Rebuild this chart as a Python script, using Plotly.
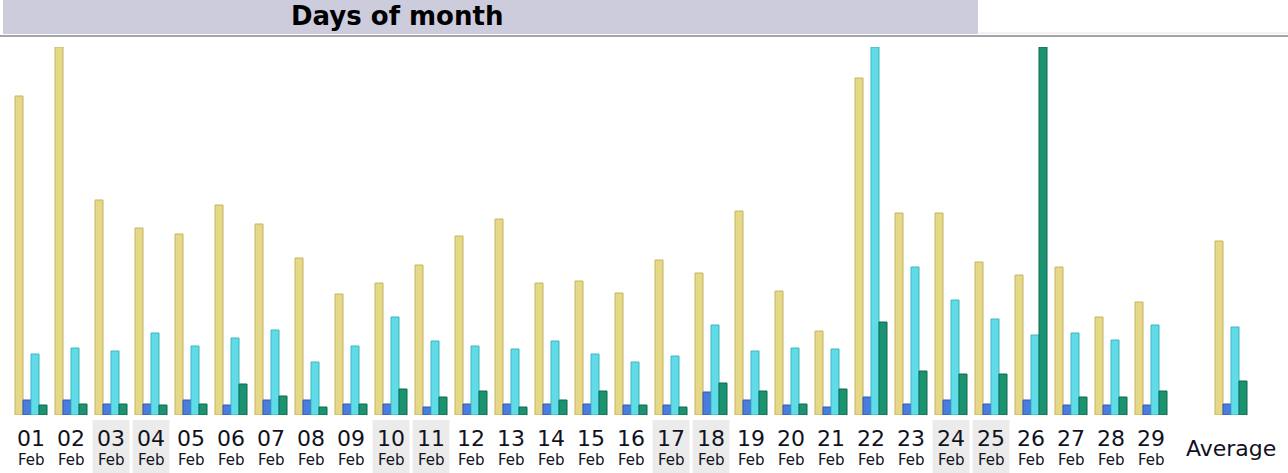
import plotly.graph_objects as go

# ---------------- data ----------------
days = ["01", "02", "03", "04", "05", "06", "07", "08", "09", "10",
        "11", "12", "13", "14", "15", "16", "17", "18", "19", "20",
        "21", "22", "23", "24", "25", "26", "27", "28", "29"]
month = "Feb"
weekend_days = ["03", "04", "10", "11", "17", "18", "24", "25"]

visits = [957, 1104, 645, 561, 543, 630, 573, 471, 363, 396,
          450, 537, 588, 396, 402, 366, 465, 426, 612, 372,
          252, 1011, 606, 606, 459, 420, 444, 294, 339]
pages = [750, 750, 550, 550, 750, 500, 750, 750, 550, 550,
         400, 550, 550, 550, 550, 500, 500, 1150, 750, 500,
         400, 900, 550, 750, 550, 750, 500, 500, 500]
hits = [3050, 3350, 3200, 4100, 3450, 3850, 4250, 2650, 3450, 4900,
        3700, 3450, 3300, 3700, 3050, 2650, 2950, 4500, 3200, 3350,
        3300, 18400, 7400, 5750, 4800, 4000, 4100, 3750, 4500]
bandwidth_mb = [20, 22, 22, 20, 22, 62, 38, 16, 22, 52,
                36, 48, 16, 30, 48, 20, 16, 64, 48, 22,
                52, 186, 88, 82, 82, 736, 36, 36, 48]

avg_label = "Average"
avg_visits = 522
avg_pages = 550
avg_hits = 4400
avg_bandwidth_mb = 68

gap_category = " "
title_text = "Days of month"

# ---------------- styles ----------------
W, H = 1288, 473
C_VISITS = "#E5D886"
C_PAGES = "#4A7BDF"
C_HITS = "#5FDCE7"
C_BW = "#1B9270"
LINE_VISITS = "#C4B35E"
LINE_PAGES = "#2F58B5"
LINE_HITS = "#3BB5C2"
LINE_BW = "#0D6A50"

x_all = days + [avg_label]
cat_array = days + [gap_category, avg_label]

fig = go.Figure()
series = [
    ("Visits", visits + [avg_visits], "y", -0.4, C_VISITS, LINE_VISITS),
    ("Pages", pages + [avg_pages], "y2", -0.2, C_PAGES, LINE_PAGES),
    ("Hits", hits + [avg_hits], "y2", 0.0, C_HITS, LINE_HITS),
    ("Bandwidth", bandwidth_mb + [avg_bandwidth_mb], "y3", 0.2, C_BW, LINE_BW),
]
for name, vals, yax, off, col, lcol in series:
    fig.add_trace(go.Bar(
        x=x_all, y=vals, name=name, yaxis=yax,
        offset=off, width=0.2,
        marker=dict(color=col, line=dict(color=lcol, width=1)),
        showlegend=False,
    ))

px = lambda v: v / W
py = lambda v: (H - v) / H

shapes = []
# title bar
shapes.append(dict(type="rect", xref="paper", yref="paper",
                   x0=px(3), x1=px(978), y0=py(34), y1=1.0,
                   fillcolor="#CCCCDD", line=dict(width=0), layer="below"))
shapes.append(dict(type="line", xref="paper", yref="paper",
                   x0=px(979), x1=1.0, y0=py(33), y1=py(33),
                   line=dict(color="#E2E2EC", width=1)))
shapes.append(dict(type="line", xref="paper", yref="paper",
                   x0=0, x1=1.0, y0=py(36), y1=py(36),
                   line=dict(color="#A3A3A8", width=2)))
# weekend label backgrounds
for d in weekend_days:
    i = cat_array.index(d)
    shapes.append(dict(type="rect", xref="x", yref="paper",
                       x0=i - 0.46, x1=i + 0.46, y0=0, y1=py(420),
                       fillcolor="#EBEBEB", line=dict(width=0), layer="below"))

annotations = [dict(text="<b>" + title_text + "</b>", xref="paper", yref="paper",
                    x=px(397), y=py(16.4), xanchor="center", yanchor="middle",
                    showarrow=False,
                    font=dict(family="DejaVu Sans", size=26, color="#000000"))]
for d in days:
    i = cat_array.index(d)
    annotations.append(dict(text=d, xref="x", yref="paper", x=i, y=py(438),
                            xanchor="center", yanchor="middle", showarrow=False,
                            font=dict(family="DejaVu Sans", size=22, color="#111122")))
    annotations.append(dict(text=month, xref="x", yref="paper", x=i, y=py(460),
                            xanchor="center", yanchor="middle", showarrow=False,
                            font=dict(family="DejaVu Sans", size=15, color="#111122")))
annotations.append(dict(text=avg_label, xref="x", yref="paper", x=cat_array.index(avg_label),
                        y=py(448), xanchor="center", yanchor="middle", showarrow=False,
                        font=dict(family="DejaVu Sans", size=22, color="#111122")))

hidden = dict(visible=False, showgrid=False, zeroline=False, fixedrange=True)
fig.update_layout(
    width=W, height=H, autosize=False,
    margin=dict(l=0, r=0, t=0, b=0, pad=0),
    paper_bgcolor="white", plot_bgcolor="white",
    barmode="overlay",
    xaxis=dict(type="category", categoryorder="array", categoryarray=cat_array,
               range=[-0.5, len(cat_array) - 0.5], domain=[px(11), px(1251)], **hidden),
    yaxis=dict(domain=[py(415), py(47)], range=[0, max(visits)], **hidden),
    yaxis2=dict(overlaying="y", range=[0, max(hits)], **hidden),
    yaxis3=dict(overlaying="y", range=[0, max(bandwidth_mb)], **hidden),
    shapes=shapes,
    annotations=annotations,
)

fig.write_html("out.html", config={"displayModeBar": False},
               post_script="document.body.style.margin='0';document.body.style.overflow='hidden';")
